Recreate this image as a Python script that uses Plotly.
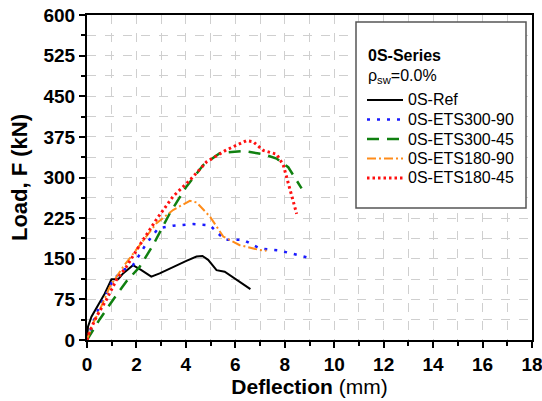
import plotly.graph_objects as go

# ---- data (deflection mm, load kN) ----
ref_x = [0, 0.04, 0.18, 0.5, 0.72, 0.99, 1.26, 1.46, 1.86, 2.2, 2.6, 2.94, 3.48, 4.02, 4.43, 4.67, 4.9, 5.24, 5.57, 6.04, 6.61]
ref_y = [0, 24.6, 43, 68, 86, 112, 112, 123, 138, 129, 117, 123, 135, 146, 154, 155, 148, 129, 126, 111, 94]

e30090_x = [0, 0.1, 0.38, 0.72, 1.05, 1.46, 1.86, 2.4, 2.88, 3.48, 4.29, 4.97, 5.24, 5.57, 6.32, 6.99, 7.8, 8.48, 9.04]
e30090_y = [0, 12, 49, 80, 111, 129, 138, 178, 206, 211, 214, 212, 200, 185, 185, 169, 165, 157, 151]

e30045_x = [0, 0.24, 0.51, 1.05, 1.59, 2.13, 2.67, 3.35, 4.02, 4.7, 5.37, 6.32, 7.13, 7.67, 8.14, 8.68]
e30045_y = [0, 18, 38, 74, 108, 135, 175, 234, 283, 323, 345, 349, 343, 335, 319, 280]

e18090_x = [0, 0.18, 0.51, 0.92, 1.46, 2.07, 2.8, 3.48, 4.16, 4.43, 4.97, 5.51, 6.18, 6.99, 7.26]
e18090_y = [0, 25, 55, 98, 135, 172, 215, 240, 257, 254, 228, 191, 175, 166, 165]

e18045_x = [0, 0.1, 0.38, 0.78, 1.19, 1.59, 2.13, 2.8, 3.48, 4.16, 4.84, 5.64, 6.45, 6.72, 7.13, 7.67, 7.94, 8.21, 8.48]
e18045_y = [0, 15, 43, 74, 111, 135, 175, 222, 265, 295, 329, 351, 368, 366, 350, 343, 323, 277, 233]

series_names = ["0S-Ref", "0S-ETS300-90", "0S-ETS300-45", "0S-ETS180-90", "0S-ETS180-45"]
x_ticks = [0, 2, 4, 6, 8, 10, 12, 14, 16, 18]
y_ticks = [0, 75, 150, 225, 300, 375, 450, 525, 600]

FONT = "Liberation Sans, Arial, sans-serif"

fig = go.Figure()
styles = [
    (ref_x, ref_y, dict(color="black", width=2, dash="solid")),
    (e30090_x, e30090_y, dict(color="#1a1aff", width=2.5, dash="3px,7px")),
    (e30045_x, e30045_y, dict(color="#108010", width=2.5, dash="12px,8px")),
    (e18090_x, e18090_y, dict(color="#ff8c1a", width=2, dash="9px,3px,2px,3px")),
    (e18045_x, e18045_y, dict(color="#ff1010", width=3, dash="2.5px,3px")),
]
for (xs, ys, ln), name in zip(styles, series_names):
    fig.add_trace(go.Scatter(x=xs, y=ys, mode="lines", name=name, line=ln, showlegend=False))

axis_common = dict(
    showline=True, linecolor="black", linewidth=2, mirror=True,
    ticks="outside", ticklen=6, tickwidth=1.5, tickcolor="black",
    showgrid=True, gridcolor="#cfcfcf", griddash="dash", gridwidth=1,
    zeroline=False, automargin=False, ticklabeloverflow="allow",
    tickfont=dict(family=FONT, size=19, color="black", weight="bold"),
)

fig.update_xaxes(
    range=[0, 18], tickvals=x_ticks, ticktext=[str(v) for v in x_ticks],
    minor=dict(dtick=1, tick0=0, ticks="outside", ticklen=4, tickcolor="black",
               showgrid=True, gridcolor="#cfcfcf", griddash="dash"),
    title=dict(text="<b>Deflection</b> (mm)", font=dict(family=FONT, size=21, color="black"), standoff=4),
    **axis_common,
)
fig.update_yaxes(
    range=[0, 600], tickvals=y_ticks, ticktext=[str(v) for v in y_ticks],
    minor=dict(dtick=37.5, tick0=0, ticks="outside", ticklen=4, tickcolor="black",
               showgrid=True, gridcolor="#cfcfcf", griddash="dash"),
    title=dict(text="<b>Load, F (kN)</b>", font=dict(family=FONT, size=22, color="black"), standoff=10),
    **axis_common,
)

# screen geometry (body margin removed via post_script)
SL, SR, ST, SB = 87, 532, 15, 340   # plot area in screen pixels
W, H = 542, 401
L, T = SL, ST
R, B = W - SR, H - SB

def px_x(p):
    return (p - SL) / (SR - SL)

def px_y(p):
    return (SB - p) / (SB - ST)

# legend box
fig.add_shape(type="rect", xref="paper", yref="paper",
              x0=px_x(356), x1=px_x(526), y0=px_y(208), y1=px_y(22),
              line=dict(color="#555555", width=1.5), fillcolor="white", layer="above")
fig.add_annotation(xref="paper", yref="paper", x=px_x(366), y=px_y(55), xanchor="left", yanchor="middle",
                   text="<b>0S-Series</b>", showarrow=False,
                   font=dict(family=FONT, size=16, color="black"))
fig.add_annotation(xref="paper", yref="paper", x=px_x(366), y=px_y(76), xanchor="left", yanchor="middle",
                   text="ρ<sub>sw</sub>=0.0%", showarrow=False,
                   font=dict(family=FONT, size=16, color="black"))

# legend entries (manual)
entry_y = [100, 119.5, 139, 158.5, 178]
for (xs, ys, ln), name, yy in zip(styles, series_names, entry_y):
    fig.add_shape(type="line", xref="paper", yref="paper",
                  x0=px_x(367), x1=px_x(403), y0=px_y(yy), y1=px_y(yy),
                  line=dict(color=ln["color"], width=ln["width"], dash=ln["dash"]), layer="above")
    fig.add_annotation(xref="paper", yref="paper", x=px_x(406), y=px_y(yy), xanchor="left", yanchor="middle",
                       text=name, showarrow=False,
                       font=dict(family=FONT, size=16, color="black"))

fig.update_layout(
    width=W, height=H,
    margin=dict(l=L, r=R, t=T, b=B, autoexpand=False),
    paper_bgcolor="white", plot_bgcolor="white",
    showlegend=False,
)

fig.write_html(
    "out.html",
    config={"displayModeBar": False},
    post_script="document.body.style.margin='0';document.body.style.overflow='hidden';",
)
